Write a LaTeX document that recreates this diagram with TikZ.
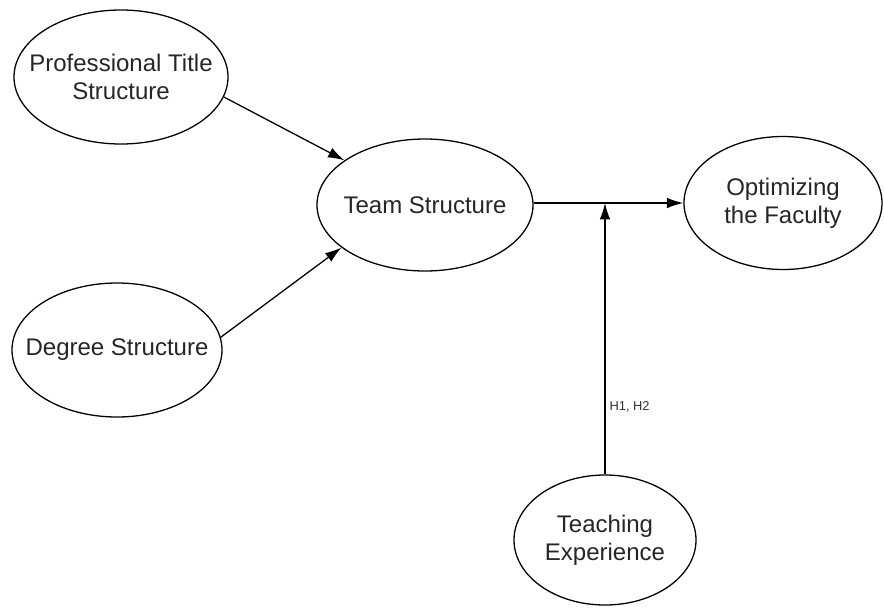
\documentclass[tikz,border=0pt]{standalone}
\usepackage{fontspec}
\setmainfont{Liberation Sans}
\usetikzlibrary{shapes.geometric,arrows.meta}

\begin{document}
\begin{tikzpicture}[x=0.03cm,y=-0.03cm,>={Latex[length=14pt,width=9pt]},line width=1.1pt,
	var node/.style={ellipse,draw,inner sep=-25pt,align=center,font=\fontsize{20.5}{24}\selectfont,text=black!85}]
				
				\useasboundingbox (0,0) rectangle (884,607);
				
				\node[var node,minimum width=6.42cm,minimum height=4.02cm] (title) at (121,77) {Professional Title\\Structure};
				\node[var node,minimum width=6.30cm,minimum height=4.02cm] (degree) at (117,350) {Degree Structure};
				\node[var node,minimum width=6.48cm,minimum height=3.96cm] (team) at (425,205) {Team Structure};
				\node[var node,minimum width=5.94cm,minimum height=3.99cm] (faculty) at (783,203) {Optimizing\\the Faculty};
				\node[var node,minimum width=5.46cm,minimum height=3.90cm] (teach) at (605,540) {Teaching\\Experience};
				
				\coordinate (join) at (teach.north |- faculty.west);
				
				\draw[->] (title.-11) -- (team.151);
				\draw[->] (degree.7) -- (team.207);
				\draw[->] (team.east |- faculty.west) -- (faculty.west);
				\draw[->] (teach.north) -- node[pos=0.25,right,font=\fontsize{11}{13}\selectfont,text=black!80] {H1, H2} (join);
				
				\end{tikzpicture}
\end{document}
